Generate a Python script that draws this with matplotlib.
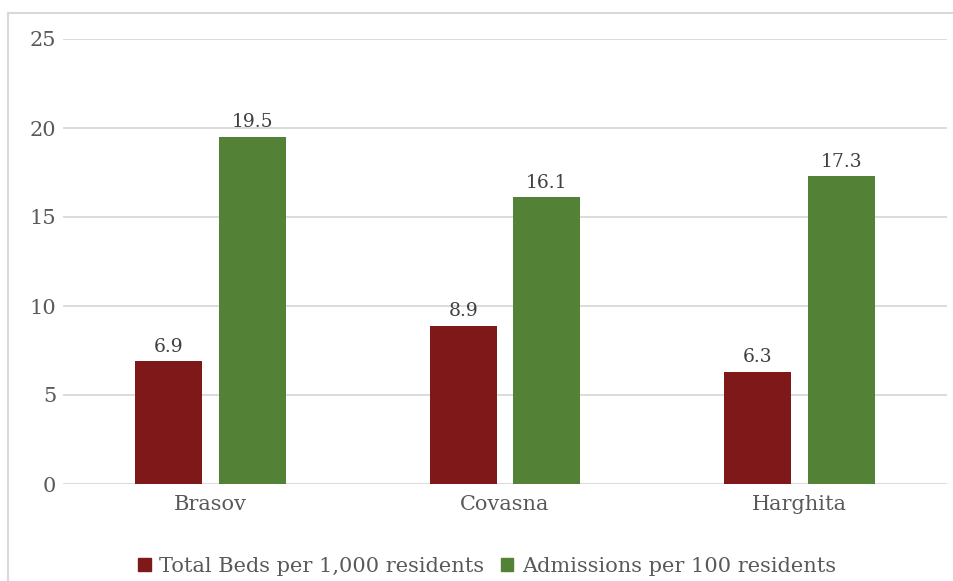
import matplotlib.pyplot as plt
import matplotlib.patches as mpatches
import matplotlib.lines as mlines
import numpy as np

# Data
counties = ["Brasov", "Covasna", "Harghita"]
beds_per_1000 = [6.9, 8.9, 6.3]
admissions_per_100 = [19.5, 16.1, 17.3]
series_names = ["Total Beds per 1,000 residents", "Admissions per 100 residents"]
y_ticks = [0, 5, 10, 15, 20, 25]

red = "#7F1919"
green = "#538135"
text_col = "#595959"

plt.rcParams['font.family'] = ['DejaVu Serif']

fig = plt.figure(figsize=(9.54, 5.81), dpi=100)
ax = fig.add_axes([63/954, 1 - 484/581, 884/954, 445/581])

x = np.arange(len(counties))
w = 0.227
off = 0.142
b1 = ax.bar(x - off, beds_per_1000, w, color=red, label=series_names[0])
b2 = ax.bar(x + off, admissions_per_100, w, color=green, label=series_names[1])

for bars in (b1, b2):
    for r in bars:
        ax.annotate(f"{r.get_height():.1f}", (r.get_x() + r.get_width()/2, r.get_height()),
                    xytext=(0, 4), textcoords="offset points", ha="center", va="bottom",
                    fontsize=13.5, color="#404040")

ax.set_xlim(-0.5, 2.5)
ax.set_ylim(0, 25)
ax.set_yticks(y_ticks)
ax.set_xticks(x)
ax.set_xticklabels(counties)
ax.tick_params(axis='both', length=0, labelsize=15, labelcolor=text_col)
ax.tick_params(axis='y', pad=5)
ax.tick_params(axis='x', pad=8)
ax.grid(axis='y', color="#D9D9D9", linewidth=1.3)
ax.set_axisbelow(True)
for s in ax.spines.values():
    s.set_visible(False)

# legend with square markers
handles = [mpatches.Patch(color=red), mpatches.Patch(color=green)]
fig.legend(handles, series_names, loc="center", bbox_to_anchor=(487/954, 1 - 566/581),
           ncol=2, frameon=False, fontsize=15, handlelength=0.6, handleheight=0.6,
           handletextpad=0.4, columnspacing=0.8, labelcolor=text_col)

# outer chart border (only top and left edges are in frame)
bx, by = 8/954, 1 - 13/581
fig.add_artist(mlines.Line2D([bx, 1], [by, by], transform=fig.transFigure,
                             color="#D9D9D9", linewidth=1.5))
fig.add_artist(mlines.Line2D([bx, bx], [0, by], transform=fig.transFigure,
                             color="#D9D9D9", linewidth=1.5))

fig.savefig("out.png", dpi=100)
